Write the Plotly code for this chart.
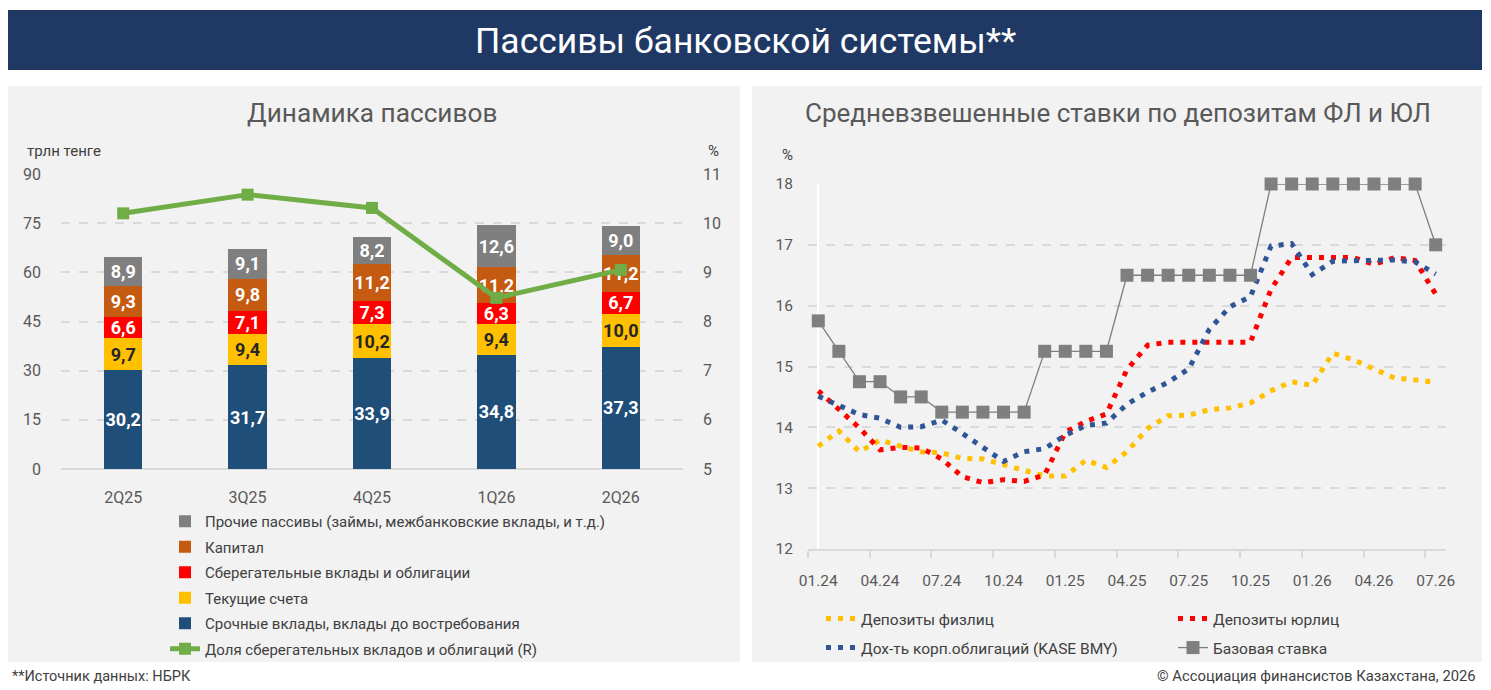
import plotly.graph_objects as go

# --- left chart: liabilities, trln tenge ---
quarters = ['2Q25', '3Q25', '4Q25', '1Q26', '2Q26']
term_deposits = [30.2, 31.7, 33.9, 34.8, 37.3]
current_accounts = [9.7, 9.4, 10.2, 9.4, 10.0]
savings = [6.6, 7.1, 7.3, 6.3, 6.7]
capital = [9.3, 9.8, 11.2, 11.2, 11.2]
other = [8.9, 9.1, 8.2, 12.6, 9.0]
savings_share = [10.2, 10.58, 10.31, 8.48, 9.05]

# --- right chart: weighted rates, % ---
months = ['01.24', '02.24', '03.24', '04.24', '05.24', '06.24', '07.24', '08.24',
          '09.24', '10.24', '11.24', '12.24', '01.25', '02.25', '03.25', '04.25',
          '05.25', '06.25', '07.25', '08.25', '09.25', '10.25', '11.25', '12.25',
          '01.26', '02.26', '03.26', '04.26', '05.26', '06.26', '07.26']
dep_individuals = [13.69, 13.94, 13.60, 13.79, 13.69, 13.60, 13.58, 13.49, 13.48, 13.39,
                   13.28, 13.20, 13.20, 13.46, 13.34, 13.60, 13.98, 14.19, 14.20, 14.29,
                   14.32, 14.40, 14.60, 14.75, 14.69, 15.22, 15.11, 14.97, 14.81, 14.78, 14.74]
dep_legal = [14.60, 14.29, 13.99, 13.63, 13.67, 13.66, 13.48, 13.19, 13.09, 13.14,
             13.11, 13.22, 13.92, 14.10, 14.22, 14.95, 15.35, 15.40, 15.40, 15.40,
             15.40, 15.40, 16.27, 16.79, 16.79, 16.79, 16.79, 16.68, 16.79, 16.74, 16.19]
corp_bonds = [14.51, 14.36, 14.21, 14.15, 14.00, 14.01, 14.12, 13.90, 13.68, 13.44,
              13.60, 13.65, 13.87, 14.03, 14.07, 14.38, 14.58, 14.74, 14.96, 15.61,
              15.98, 16.15, 16.98, 17.02, 16.51, 16.73, 16.74, 16.74, 16.75, 16.72, 16.52]
base_rate = [15.75, 15.25, 14.75, 14.75, 14.5, 14.5, 14.25, 14.25, 14.25, 14.25,
             14.25, 15.25, 15.25, 15.25, 15.25, 16.5, 16.5, 16.5, 16.5, 16.5,
             16.5, 16.5, 18.0, 18.0, 18.0, 18.0, 18.0, 18.0, 18.0, 18.0, 17.0]

W, H = 1491, 690
PAGE_OFFSET = 8  # default body margin of the html page
FONT = 'Roboto, Liberation Sans, sans-serif'
TXT = '#595959'
DARK = '#404040'
GRID = '#D9D9D9'


def px_x(x):
    return (x - PAGE_OFFSET) / W


def px_y(y):
    return 1 - (y - PAGE_OFFSET) / H


fig = go.Figure()

bar_series = [
    ('Срочные вклады, вклады до востребования', term_deposits, '#1F4E79', 'white', 5),
    ('Текущие счета', current_accounts, '#FFC000', '#262626', 4),
    ('Сберегательные вклады и облигации', savings, '#FF0000', 'white', 3),
    ('Капитал', capital, '#C55A11', 'white', 2),
    ('Прочие пассивы (займы, межбанковские вклады, и т.д.)', other, '#7F7F7F', 'white', 1),
]
for name, vals, color, tcolor, rank in bar_series:
    fig.add_trace(go.Bar(
        x=quarters, y=vals, name=name, legendrank=rank, legendgroup=name,
        marker=dict(color=color, line=dict(width=0)),
        width=0.31,
        texttemplate='%{y:.1f}', textposition='inside', insidetextanchor='middle',
        textangle=0, constraintext='none',
        textfont=dict(family=FONT, size=18, color=tcolor, weight='bold'),
        xaxis='x', yaxis='y', legend='legend',
    ))

fig.add_trace(go.Scatter(
    x=quarters, y=savings_share, name='Доля сберегательных вкладов и облигаций (R)',
    legendrank=6, legendgroup='share', mode='lines+markers',
    line=dict(color='#70AD47', width=5),
    marker=dict(symbol='square', size=12, color='#70AD47'),
    xaxis='x', yaxis='y2', legend='legend', cliponaxis=False,
))

# right chart
idx = list(range(len(months)))
dotted = [
    ('Депозиты физлиц', dep_individuals, '#FFC000', 'legend2'),
    ('Депозиты юрлиц', dep_legal, '#FF0000', 'legend2'),
    ('Дох-ть корп.облигаций (KASE BMY)', corp_bonds, '#2F5597', 'legend3'),
]
for name, vals, color, lg in dotted:
    fig.add_trace(go.Scatter(
        x=idx, y=vals, name=name, mode='lines',
        line=dict(color=color, width=5, dash='5px,7px'),
        xaxis='x3', yaxis='y3', legend=lg, cliponaxis=False,
    ))
fig.add_trace(go.Scatter(
    x=idx, y=base_rate, name='Базовая ставка', mode='lines+markers',
    line=dict(color='#7F7F7F', width=1.3),
    marker=dict(symbol='square', size=13, color='#7F7F7F'),
    xaxis='x3', yaxis='y3', legend='legend3', cliponaxis=False,
))

left_dom = [px_x(61), px_x(683)]
left_ydom = [px_y(469), px_y(174)]
right_dom = [px_x(808), px_x(1446)]
right_ydom = [px_y(549), px_y(184)]

fig.update_layout(
    width=W, height=H,
    margin=dict(l=0, r=0, t=0, b=0, autoexpand=False),
    paper_bgcolor='white', plot_bgcolor='rgba(0,0,0,0)',
    font=dict(family=FONT, size=16, color=TXT),
    barmode='stack', bargap=0.69,
    separators=', ',
    uniformtext=dict(mode='show', minsize=17),
    xaxis=dict(domain=left_dom, anchor='y', showgrid=False, showline=False,
               ticks='', ticklabelstandoff=17, tickfont=dict(size=16, color=TXT)),
    yaxis=dict(domain=left_ydom, anchor='x', range=[0, 90], dtick=15,
               showgrid=True, gridcolor=GRID, griddash='dash', gridwidth=1.5,
               zeroline=True, zerolinecolor=GRID, zerolinewidth=2,
               ticks='', ticklabelstandoff=19, tickfont=dict(size=16, color=TXT)),
    yaxis2=dict(domain=left_ydom, anchor='x', overlaying='y', side='right',
                range=[5, 11], dtick=1, showgrid=False, zeroline=False,
                ticks='', ticklabelstandoff=19, tickfont=dict(size=16, color=TXT)),
    xaxis3=dict(domain=right_dom, anchor='y3', range=[-0.5, 30.5],
                tickmode='array', tickvals=idx[::3], ticktext=months[::3],
                showgrid=False, showline=True, linecolor=GRID, linewidth=2,
                ticks='', ticklabelstandoff=16, tickfont=dict(size=15.5, color=TXT),
                minor=dict(tickmode='linear', tick0=-0.5, dtick=3, ticks='outside',
                           ticklen=7, tickwidth=1.5, tickcolor=GRID, showgrid=False)),
    yaxis3=dict(domain=right_ydom, anchor='x3', range=[12, 18], dtick=1,
                showgrid=True, gridcolor=GRID, griddash='dash', gridwidth=1.5,
                zeroline=False, ticks='', ticklabelstandoff=14,
                tickfont=dict(size=15.5, color=TXT)),
    legend=dict(x=px_x(165), y=px_y(505), xanchor='left', yanchor='top',
                orientation='v', traceorder='grouped', tracegroupgap=3,
                bgcolor='rgba(0,0,0,0)', font=dict(size=15, color=DARK), itemwidth=30),
    legend2=dict(x=px_x(821), y=px_y(602), xanchor='left', yanchor='top',
                 orientation='h', entrywidth=307, bgcolor='rgba(0,0,0,0)',
                 font=dict(size=15.5, color=DARK)),
    legend3=dict(x=px_x(821), y=px_y(631), xanchor='left', yanchor='top',
                 orientation='h', entrywidth=307, bgcolor='rgba(0,0,0,0)',
                 font=dict(size=15.5, color=DARK)),
    showlegend=True,
)

# background blocks
fig.add_shape(type='rect', xref='paper', yref='paper', layer='below',
              x0=px_x(7), x1=px_x(1482), y0=px_y(70), y1=px_y(10),
              fillcolor='#1F3864', line=dict(width=0))
fig.add_shape(type='rect', xref='paper', yref='paper', layer='below',
              x0=px_x(8), x1=px_x(740), y0=px_y(662), y1=px_y(86),
              fillcolor='#F2F2F2', line=dict(width=0))
fig.add_shape(type='rect', xref='paper', yref='paper', layer='below',
              x0=px_x(752), x1=px_x(1482), y0=px_y(662), y1=px_y(86),
              fillcolor='#F2F2F2', line=dict(width=0))

notes = [
    ('Пассивы банковской системы**', 745, 41, 35.5, 'white', 'center'),
    ('Динамика пассивов', 372, 113, 26.2, TXT, 'center'),
    ('Средневзвешенные ставки по депозитам ФЛ и ЮЛ', 1118, 113, 26, TXT, 'center'),
    ('трлн тенге', 25, 151, 15, DARK, 'left'),
    ('%', 706, 151, 15, DARK, 'left'),
    ('%', 780, 155, 15, DARK, 'left'),
    ('**Источник данных: НБРК', 10, 676, 14.5, DARK, 'left'),
    ('© Ассоциация финансистов Казахстана, 2026', 1478, 676, 14.8, DARK, 'right'),
]
for text, x, y, size, color, anchor in notes:
    fig.add_annotation(text=text, xref='paper', yref='paper', x=px_x(x), y=px_y(y),
                       xanchor=anchor, yanchor='middle', showarrow=False,
                       font=dict(family=FONT, size=size, color=color))

fig.write_html('out.html')
